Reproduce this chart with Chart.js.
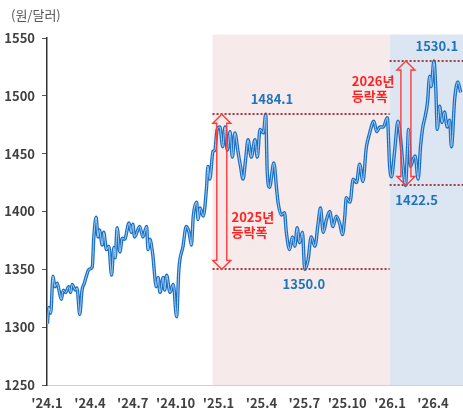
<!DOCTYPE html>
<html><head><meta charset="utf-8">
<script src="https://cdn.jsdelivr.net/npm/chart.js@4"></script>
<style>html,body{margin:0;padding:0;background:#fff}#wrap{width:463px;height:413px;position:relative}</style>
</head><body><div id="wrap"><canvas id="c" width="463" height="413"></canvas></div>
<script>
// ---- data ----
const dates = [
'2024-01-02','2024-01-05','2024-01-09','2024-01-14','2024-01-18','2024-01-23','2024-01-27','2024-02-01','2024-02-05','2024-02-10','2024-02-16','2024-02-20','2024-02-23',
'2024-03-01','2024-03-04','2024-03-10','2024-03-15','2024-03-20','2024-03-25','2024-03-30','2024-04-06','2024-04-09','2024-04-14','2024-04-18','2024-04-21','2024-04-27','2024-04-30',
'2024-05-06','2024-05-11','2024-05-17','2024-05-22','2024-05-25','2024-05-29','2024-06-04','2024-06-09','2024-06-14','2024-06-23','2024-06-28','2024-07-01','2024-07-05','2024-07-16','2024-07-23','2024-07-31',
'2024-08-03','2024-08-07','2024-08-13','2024-08-21','2024-08-25','2024-08-29','2024-09-05','2024-09-08','2024-09-12','2024-09-19','2024-09-26','2024-10-03','2024-10-08','2024-10-17','2024-10-24','2024-10-30',
'2024-11-04','2024-11-08','2024-11-15','2024-11-18','2024-11-22','2024-11-29','2024-12-06','2024-12-09','2024-12-13','2024-12-20','2024-12-24','2024-12-29',
'2025-01-04','2025-01-10','2025-01-15','2025-01-20','2025-01-26','2025-01-31','2025-02-05','2025-02-11','2025-02-16','2025-02-21','2025-02-26','2025-03-03','2025-03-10','2025-03-18','2025-03-23','2025-03-29',
'2025-04-05','2025-04-10','2025-04-13','2025-04-18','2025-04-27','2025-05-03','2025-05-06','2025-05-13','2025-05-20','2025-05-24','2025-05-31','2025-06-06','2025-06-11','2025-06-16','2025-06-21','2025-06-27',
'2025-07-02','2025-07-09','2025-07-16','2025-07-24','2025-07-31','2025-08-05','2025-08-11','2025-08-18','2025-08-25','2025-09-01','2025-09-08','2025-09-15','2025-09-21','2025-09-26','2025-09-29',
'2025-10-07','2025-10-14','2025-10-21','2025-10-28','2025-11-04','2025-11-11','2025-11-17','2025-11-27','2025-12-03','2025-12-10','2025-12-17','2025-12-26','2025-12-31',
'2026-01-04','2026-01-11','2026-01-18','2026-01-24','2026-01-29','2026-02-03','2026-02-07','2026-02-09','2026-02-13','2026-02-18','2026-02-22','2026-02-28','2026-03-05','2026-03-10','2026-03-15','2026-03-20','2026-03-25','2026-03-28',
'2026-04-03','2026-04-07','2026-04-10','2026-04-15','2026-04-20','2026-04-25','2026-05-01','2026-05-06','2026-05-10','2026-05-17','2026-05-24','2026-05-30'];
const rates = [
1303,1317,1312,1344,1335,1338,1332,1324,1332,1330,1335,1330,1337,
1332,1334,1311,1332,1338,1345,1350,1352,1376,1395,1378,1384,1371,1382,
1367,1370,1345,1369,1360,1386,1365,1377,1376,1390,1382,1389,1378,1387,1378,1387,
1367,1376,1364,1335,1343,1330,1343,1332,1345,1330,1337,1309,1350,1370,1387,1382,
1371,1396,1408,1393,1403,1396,1421,1439,1428,1452,1453,1471,
1473,1456,1473,1453,1469,1447,1468,1452,1439,1428,1445,1462,1447,1462,1447,1471,
1468,1484.1,1436,1421,1442,1419,1408,1397,1399,1382,1367,1378,1370,1386,1373,1382,
1350.0,1358,1378,1370,1390,1403,1382,1393,1400,1387,1396,1390,1380,1396,1412,
1408,1428,1425,1441,1426,1455,1466,1478,1469,1473,1473,1481,1439,
1430,1453,1478,1462,1439,1422.5,1453,1471,1439,1445,1448,1428,1456,1473,1482,1494,1517,1508,
1530.1,1505,1471,1491,1477,1486,1473,1479,1456,1497,1512,1503];
const tickMonths = [0,3,6,9,12,15,18,21,24,27];
const tickLabels = ["'24.1","'24.4","'24.7","'24.10","'25.1","'25.4","'25.7","'25.10","'26.1","'26.4"];
const yTicks = [1250,1300,1350,1400,1450,1500,1550];
const unitLabel = '(원/달러)';
const periodStarts = ['2024-12-19','2025-12-31'];
const periodHighs = [1484.1, 1530.1];
const periodLows = [1350.0, 1422.5];
const highLabelDates = ['2025-04-23','2026-04-09'];
const lowLabelDates = ['2025-06-30','2026-02-25'];
const arrowDates = ['2025-01-08','2026-02-04'];
const captionLines = [['2025년','등락폭'],['2026년','등락폭']];
const captionDates = ['2025-01-29','2025-10-11'];
const captionValues = [1395.5, 1513];

function monthPos(d){const [Y,M,D]=d.split('-').map(Number);const dim=new Date(Y,M,0).getDate();return (Y-2024)*12+(M-1)+(D-1)/dim;}
const pts = dates.map((d,i)=>({x:monthPos(d),y:rates[i]}));
const FONT = '"Noto Sans CJK KR","Noto Sans",sans-serif';

const annot = {
  id:'annot',
  beforeDatasetsDraw(chart){
    const {ctx, chartArea:a, scales:{x,y}} = chart;
    ctx.save();
    const cols=['#f6eaea','#dce6f2'];
    periodStarts.forEach((s,i)=>{
      const x0=x.getPixelForValue(monthPos(s));
      const x1=i+1<periodStarts.length?x.getPixelForValue(monthPos(periodStarts[i+1])):a.right;
      const top=y.getPixelForValue(1553);
      ctx.fillStyle=cols[i];
      ctx.fillRect(x0,top,x1-x0,a.bottom-top);
    });
    ctx.restore();
  },
  afterDatasetsDraw(chart){
    const {ctx, chartArea:a, scales:{x,y}} = chart;
    ctx.save();
    periodStarts.forEach((s,i)=>{
      const x0=x.getPixelForValue(monthPos(s));
      const x1=i+1<periodStarts.length?x.getPixelForValue(monthPos(periodStarts[i+1])):a.right;
      ctx.strokeStyle='#a33a3f';ctx.lineWidth=2;ctx.setLineDash([2,2]);
      [periodHighs[i],periodLows[i]].forEach(v=>{
        const yy=Math.round(y.getPixelForValue(v));
        ctx.beginPath();ctx.moveTo(x0,yy);ctx.lineTo(x1,yy);ctx.stroke();
      });
      ctx.setLineDash([]);
      const ax=x.getPixelForValue(monthPos(arrowDates[i]));
      const yT=y.getPixelForValue(periodHighs[i]), yB=y.getPixelForValue(periodLows[i]);
      const sw=5,hw=9,hh=9;
      ctx.strokeStyle='#ff3b3b';ctx.lineWidth=1.4;ctx.lineJoin='miter';
      ctx.beginPath();
      ctx.moveTo(ax,yT);ctx.lineTo(ax+hw,yT+hh);ctx.lineTo(ax+sw,yT+hh);ctx.lineTo(ax+sw,yB-hh);
      ctx.lineTo(ax+hw,yB-hh);ctx.lineTo(ax,yB);ctx.lineTo(ax-hw,yB-hh);ctx.lineTo(ax-sw,yB-hh);
      ctx.lineTo(ax-sw,yT+hh);ctx.lineTo(ax-hw,yT+hh);ctx.closePath();ctx.stroke();
      ctx.font='bold 13px '+FONT;ctx.fillStyle='#1f72bd';ctx.textAlign='center';ctx.textBaseline='middle';
      ctx.fillText(periodHighs[i].toFixed(1), x.getPixelForValue(monthPos(highLabelDates[i])), y.getPixelForValue(periodHighs[i])-15);
      ctx.fillText(periodLows[i].toFixed(1), x.getPixelForValue(monthPos(lowLabelDates[i])), y.getPixelForValue(periodLows[i])+15);
      ctx.fillStyle='#ff2323';ctx.textAlign='left';
      const cx=x.getPixelForValue(monthPos(captionDates[i])), cy=y.getPixelForValue(captionValues[i]);
      captionLines[i].forEach((t,k)=>ctx.fillText(t,cx,cy+k*15));
    });
    ctx.font='13px '+FONT;ctx.fillStyle='#555';ctx.textAlign='left';ctx.textBaseline='middle';
    ctx.fillText(unitLabel,11,15);
    ctx.restore();
  }
};

new Chart(document.getElementById('c'),{
  type:'line',
  data:{datasets:[
    {data:pts,borderColor:'#a9d0f1',borderWidth:1,pointRadius:0,cubicInterpolationMode:'monotone',order:0},
    {data:pts,borderColor:'#1a6fc4',borderWidth:3.4,pointRadius:0,cubicInterpolationMode:'monotone',order:1}
  ]},
  options:{
    responsive:false,animation:false,
    layout:{padding:{top:38,left:0,right:0,bottom:0}},
    plugins:{legend:{display:false},tooltip:{enabled:false}},
    scales:{
      x:{type:'linear',min:0,max:29.1,
        afterBuildTicks:s=>{s.ticks=tickMonths.map(v=>({value:v}));},
        afterFit:s=>{s.height=28;},
        grid:{display:true,drawOnChartArea:false,drawTicks:false,color:'transparent'},
        border:{color:'#d0d0d0',width:1},
        ticks:{padding:10,maxRotation:0,autoSkip:false,color:'#404040',font:{family:FONT,size:13,weight:'bold'},
          callback:(v)=>{const k=tickMonths.indexOf(v);return k>=0?tickLabels[k]:'';}}
      },
      y:{min:1250,max:1550,
        afterBuildTicks:s=>{s.ticks=yTicks.map(v=>({value:v}));},
        afterFit:s=>{s.width=47;},
        grid:{drawOnChartArea:false,drawTicks:true,tickLength:5,color:'#555'},
        border:{color:'#333',width:1.5},
        ticks:{padding:7,color:'#404040',font:{family:FONT,size:13,weight:'bold'},callback:(v)=>String(v)}
      }
    }
  },
  plugins:[annot]
});
</script></body></html>
